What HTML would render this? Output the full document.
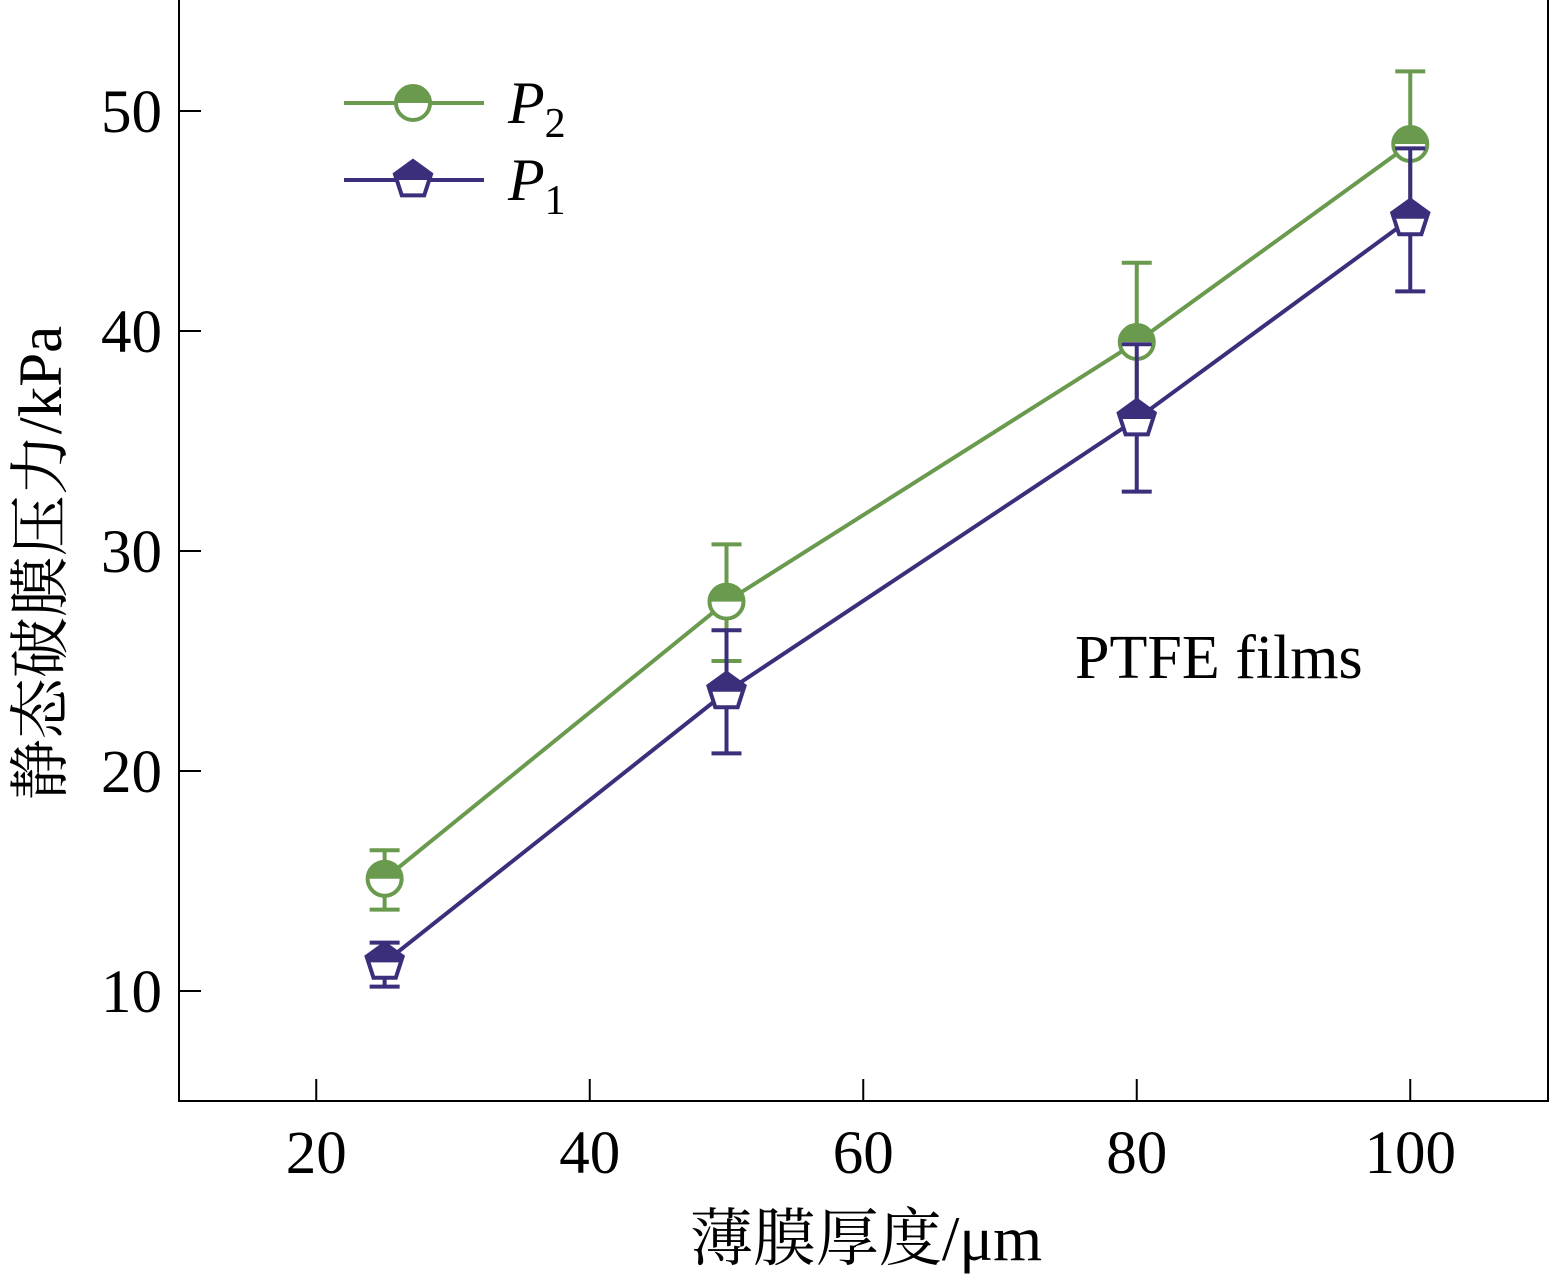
<!DOCTYPE html>
<html><head><meta charset="utf-8"><style>
body{margin:0;background:#fff;}
svg{display:block;font-family:"Liberation Serif","Noto Serif CJK SC",serif;}
</style></head><body>
<svg id="chart" width="1551" height="1280" viewBox="0 0 1551 1280"></svg>
<script>
const categories=[25,50,80,100];
const p2Values=[15.1,27.7,39.5,48.5];
const p2Upper=[16.4,30.3,43.1,51.8];
const p2Lower=[13.7,25.0,36.0,45.2];
const p1Values=[11.3,23.6,36.0,45.1];
const p1Upper=[12.2,26.4,39.4,48.3];
const p1Lower=[10.2,20.8,32.7,41.8];
const xTicks=[20,40,60,80,100];
const yTicks=[10,20,30,40,50];
const NS="http://www.w3.org/2000/svg";
const svg=document.getElementById('chart');
const X=v=>179.5+(v-10)*13.675;
const Y=v=>1101-(v-5)*22;
const G='#6a9a4e',B='#3b2f7c';
function el(t,a,p){const e=document.createElementNS(NS,t);for(const k in a)e.setAttribute(k,a[k]);(p||svg).appendChild(e);return e;}
const frame=el('path',{d:'M179 0V1101H1548V0',fill:'none',stroke:'#000','stroke-width':2});


xTicks.forEach(t=>{
 const l=el('line',{x1:X(t),x2:X(t),y1:1079,y2:1101,stroke:'#000','stroke-width':2});
 
 
 const tx=el('text',{x:X(t),y:1173,'text-anchor':'middle','font-size':61});
 tx.textContent=t;
 
 
});
yTicks.forEach(t=>{
 const l=el('line',{x1:179,x2:201,y1:Y(t),y2:Y(t),stroke:'#000','stroke-width':2});
 
 
 const tx=el('text',{x:162,y:Y(t)+21,'text-anchor':'end','font-size':61});
 tx.textContent=t;
 
 
});
function series(vals,up,lo,col,shape,name){
 const pl=el('polyline',{points:categories.map((c,i)=>X(c)+','+Y(vals[i])).join(' '),fill:'none',stroke:col,'stroke-width':4});
 
 
 categories.forEach((c,i)=>{
  const x=X(c);
  const eb=el('path',{d:`M${x} ${Y(up[i])}V${Y(lo[i])}M${x-15} ${Y(up[i])}H${x+15}M${x-15} ${Y(lo[i])}H${x+15}`,stroke:col,'stroke-width':4,fill:'none'});
  
  
  marker(x,Y(vals[i]),col,shape,name+'-point');
 });
}
function marker(x,y,col,shape,nm){
 const g=el('g',{});
 
 
 if(shape==='circle'){
  el('circle',{cx:x,cy:y,r:17,fill:'#fff',stroke:col,'stroke-width':4},g);
  el('path',{d:`M${x-17} ${y}A17 17 0 0 1 ${x+17} ${y}Z`,fill:col},g);
 }else{
  const r=19,pts=[];
  for(let k=0;k<5;k++){const a=-Math.PI/2+k*2*Math.PI/5;pts.push((x+r*Math.cos(a)).toFixed(1)+','+(y+r*Math.sin(a)).toFixed(1));}
  el('polygon',{points:pts.join(' '),fill:'#fff',stroke:col,'stroke-width':4},g);
  el('clipPath',{id:'c'+x+y},g);
  const cp=g.lastChild;el('rect',{x:x-25,y:y-25,width:50,height:25},cp);
  el('polygon',{points:pts.join(' '),fill:col,'clip-path':`url(#c${x}${y})`},g);
 }
}
series(p2Values,p2Upper,p2Lower,G,'circle','p2');
series(p1Values,p1Upper,p1Lower,B,'pent','p1');
[[103,G,'circle','2'],[180,B,'pent','1']].forEach(([y,c,s,n])=>{
 const l=el('line',{x1:344,x2:484,y1:y,y2:y,stroke:c,'stroke-width':4});
 
 
 marker(413,y,c,s,'legend-marker-p'+n);
 const t=el('text',{x:508,y:y+20,'font-size':60});
 t.innerHTML=`<tspan font-style="italic">P</tspan><tspan font-size="42" dy="14">${n}</tspan>`;
 
 
});
const an=el('text',{x:1075,y:678,'font-size':62});an.textContent='PTFE films';


const xt=el('text',{x:866,y:1260,'text-anchor':'middle','font-size':63});xt.textContent='薄膜厚度/μm';


const yt=el('text',{x:0,y:0,'text-anchor':'middle','font-size':61,transform:'translate(61,563) rotate(-90)'});yt.textContent='静态破膜压力/kPa';


</script>
</body></html>
